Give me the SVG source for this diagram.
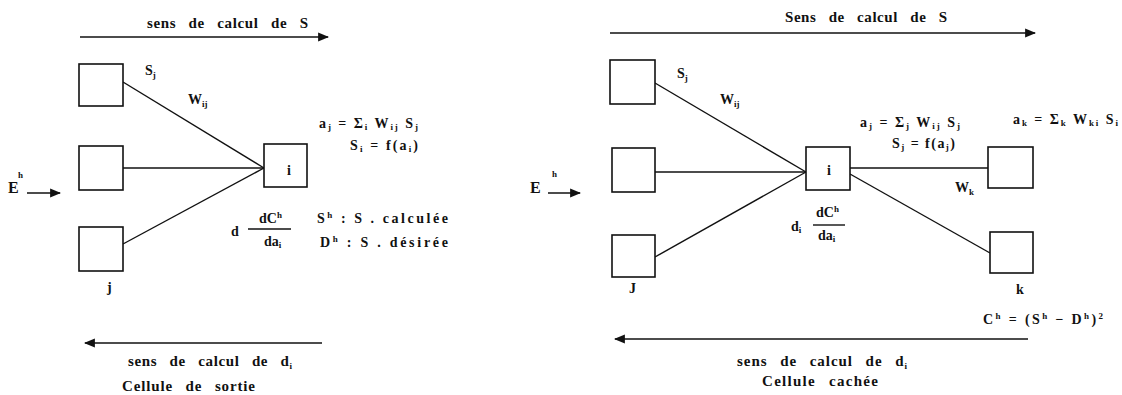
<svg xmlns="http://www.w3.org/2000/svg" width="1122" height="395" viewBox="0 0 1122 395">
<style>
.bx{fill:#fff;stroke:#111;stroke-width:1.6}
.ln{stroke:#111;stroke-width:1.4;fill:none}
.ar{stroke:#111;stroke-width:1.5;fill:none}
text{font-family:"Liberation Serif",serif;font-weight:bold;fill:#111;font-size:14px}
.t{font-size:15px;word-spacing:8px}
.sm{font-size:9px}
.lg{font-size:16px}
</style>
<defs>
<marker id="ah" viewBox="0 0 10 10" refX="9" refY="5" markerWidth="11" markerHeight="11" markerUnits="userSpaceOnUse" orient="auto-start-reverse">
<path d="M0,1 L10,5 L0,9 Z" fill="#111"/>
</marker>
</defs>
<rect width="1122" height="395" fill="#fff"/>

<g id="connectors">
<line class="ar" x1="80" y1="37" x2="328" y2="37" marker-end="url(#ah)"/>
<line class="ar" x1="27" y1="193" x2="60" y2="193" marker-end="url(#ah)"/>
<line class="ar" x1="85" y1="343" x2="322" y2="343" marker-start="url(#ah)"/>
<line class="ln" x1="123" y1="82" x2="264" y2="168"/>
<line class="ln" x1="123" y1="168" x2="264" y2="168"/>
<line class="ln" x1="123" y1="244" x2="264" y2="168"/>
<line class="ln" x1="248" y1="229" x2="291" y2="229"/>

<line class="ar" x1="610" y1="33" x2="1035" y2="33" marker-end="url(#ah)"/>
<line class="ar" x1="548" y1="193" x2="580" y2="193" marker-end="url(#ah)"/>
<line class="ar" x1="615" y1="339" x2="1028" y2="339" marker-start="url(#ah)"/>
<line class="ln" x1="655" y1="83" x2="806" y2="172"/>
<line class="ln" x1="655" y1="172" x2="806" y2="172"/>
<line class="ln" x1="655" y1="257" x2="806" y2="172"/>
<line class="ln" x1="850" y1="168" x2="988" y2="168"/>
<line class="ln" x1="850" y1="174" x2="990" y2="253"/>
<line class="ln" x1="813" y1="225" x2="845" y2="225"/>
</g>

<g id="left-titles" font-family="Liberation Serif, serif">
<text class="t" x="147" y="28" textLength="161" lengthAdjust="spacing">sens de calcul de S</text>
<text class="t" x="128" y="366" textLength="164" lengthAdjust="spacing">sens de calcul de d<tspan class="sm" dy="3">i</tspan></text>
<text class="t" x="122" y="391" textLength="133" lengthAdjust="spacing">Cellule de sortie</text>
</g>
<g id="L-E" font-family="Liberation Serif, serif"><text class="lg" x="8" y="193">E</text><text class="sm" x="18" y="178">h</text></g>
<g id="L-j1" font-family="Liberation Serif, serif"><rect class="bx" x="79" y="64" width="44" height="42"/><text x="145" y="75">S<tspan class="sm" dy="3">j</tspan></text></g>
<g id="L-j2"><rect class="bx" x="79" y="146" width="44" height="44"/></g>
<g id="L-j3" font-family="Liberation Serif, serif"><rect class="bx" x="79" y="227" width="44" height="44"/><text x="107" y="292">j</text></g>
<g id="L-w" font-family="Liberation Serif, serif"><text x="188" y="104">W<tspan class="sm" dy="3">ij</tspan></text></g>
<g id="L-i" font-family="Liberation Serif, serif"><rect class="bx" x="264" y="144" width="43" height="43"/><text x="287" y="175">i</text></g>
<g id="L-formulas" font-family="Liberation Serif, serif">
<text x="319" y="128" textLength="99" lengthAdjust="spacing">a<tspan class="sm" dy="2">j</tspan><tspan dy="-2"> = Σ</tspan><tspan class="sm" dy="2">i</tspan><tspan dy="-2"> W</tspan><tspan class="sm" dy="2">ij</tspan><tspan dy="-2"> S</tspan><tspan class="sm" dy="2">j</tspan></text>
<text x="350" y="150" textLength="68" lengthAdjust="spacing">S<tspan class="sm" dy="2">i</tspan><tspan dy="-2"> = f(a</tspan><tspan class="sm" dy="2">i</tspan><tspan dy="-2">)</tspan></text>
<text x="231" y="236">d</text>
<text x="259" y="223">dC<tspan class="sm" dy="-5">h</tspan></text>
<text x="264" y="246">da<tspan class="sm" dy="2">i</tspan></text>
<text x="317" y="223" textLength="131" lengthAdjust="spacing">S<tspan class="sm" dy="-5">h</tspan><tspan dy="5"> :  S . calculée</tspan></text>
<text x="320" y="247" textLength="128" lengthAdjust="spacing">D<tspan class="sm" dy="-5">h</tspan><tspan dy="5"> : S . désirée</tspan></text>
</g>

<g id="right-titles" font-family="Liberation Serif, serif">
<text class="t" x="785" y="22" textLength="162" lengthAdjust="spacing">Sens de calcul de S</text>
<text class="t" x="737" y="366" textLength="170" lengthAdjust="spacing">sens  de calcul de d<tspan class="sm" dy="3">i</tspan></text>
<text class="t" x="762" y="386" textLength="116" lengthAdjust="spacing">Cellule cachée</text>
</g>
<g id="R-E" font-family="Liberation Serif, serif"><text class="lg" x="530" y="193">E</text><text class="sm" x="552" y="177">h</text></g>
<g id="R-j1" font-family="Liberation Serif, serif"><rect class="bx" x="610" y="60" width="45" height="44"/><text x="677" y="78">S<tspan class="sm" dy="3">j</tspan></text></g>
<g id="R-j2"><rect class="bx" x="612" y="148" width="43" height="44"/></g>
<g id="R-j3" font-family="Liberation Serif, serif"><rect class="bx" x="612" y="235" width="43" height="42"/><text x="629" y="293">J</text></g>
<g id="R-w" font-family="Liberation Serif, serif"><text x="720" y="104">W<tspan class="sm" dy="3">ij</tspan></text></g>
<g id="R-i" font-family="Liberation Serif, serif"><rect class="bx" x="806" y="147" width="44" height="43"/><text x="827" y="175">i</text></g>
<g id="R-k1" font-family="Liberation Serif, serif"><rect class="bx" x="988" y="147" width="45" height="41"/><text x="955" y="192">W<tspan class="sm" dy="3">k</tspan></text></g>
<g id="R-k2" font-family="Liberation Serif, serif"><rect class="bx" x="990" y="232" width="43" height="41"/><text x="1016" y="294">k</text></g>
<g id="R-formulas" font-family="Liberation Serif, serif">
<text x="860" y="127" textLength="100" lengthAdjust="spacing">a<tspan class="sm" dy="2">j</tspan><tspan dy="-2"> = Σ</tspan><tspan class="sm" dy="2">j</tspan><tspan dy="-2"> W</tspan><tspan class="sm" dy="2">ij</tspan><tspan dy="-2"> S</tspan><tspan class="sm" dy="2">j</tspan></text>
<text x="892" y="148" textLength="63" lengthAdjust="spacing">S<tspan class="sm" dy="2">j</tspan><tspan dy="-2"> = f(a</tspan><tspan class="sm" dy="2">j</tspan><tspan dy="-2">)</tspan></text>
<text x="1013" y="124" textLength="105" lengthAdjust="spacing">a<tspan class="sm" dy="2">k</tspan><tspan dy="-2"> = Σ</tspan><tspan class="sm" dy="2">k</tspan><tspan dy="-2"> W</tspan><tspan class="sm" dy="2">ki</tspan><tspan dy="-2"> S</tspan><tspan class="sm" dy="2">i</tspan></text>
<text x="791" y="231">d<tspan class="sm" dy="2">i</tspan></text>
<text x="816" y="217">dC<tspan class="sm" dy="-5">h</tspan></text>
<text x="818" y="240">da<tspan class="sm" dy="2">i</tspan></text>
<text x="983" y="324" textLength="120" lengthAdjust="spacing">C<tspan class="sm" dy="-5">h</tspan><tspan dy="5"> = (S</tspan><tspan class="sm" dy="-5">h</tspan><tspan dy="5"> − D</tspan><tspan class="sm" dy="-5">h</tspan><tspan dy="5">)</tspan><tspan class="sm" dy="-5">2</tspan></text>
</g>
</svg>
